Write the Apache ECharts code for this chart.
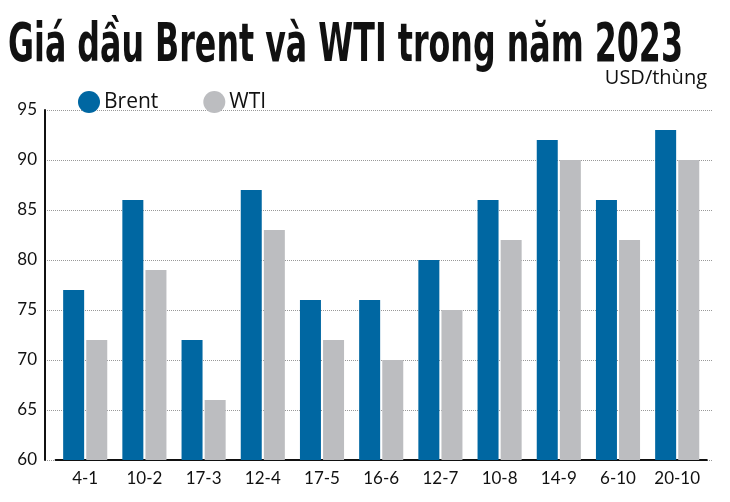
<!DOCTYPE html>
<html><head><meta charset="utf-8">
<script src="https://cdn.jsdelivr.net/npm/echarts@6/dist/echarts.min.js"></script>
<style>html,body{margin:0;padding:0;background:#fff}#c{width:730px;height:502px}</style>
</head><body><div id="c"></div>
<script>
var categories = ['4-1','10-2','17-3','12-4','17-5','16-6','12-7','10-8','14-9','6-10','20-10'];
var brent = [77, 86, 72, 87, 76, 76, 80, 86, 92, 86, 93];
var wti = [72, 79, 66, 83, 72, 70, 75, 82, 90, 82, 90];
var yTicks = [60, 65, 70, 75, 80, 85, 90, 95];

var titleText = 'Giá dầu Brent và WTI trong năm 2023';
var titleFont = 'bold 52px "DejaVu Sans Condensed"';
var cv = document.createElement('canvas').getContext('2d');
cv.font = titleFont;
var tw = cv.measureText(titleText).width;
var sx = 675 / tw;

var chart = echarts.init(document.getElementById('c'), null, {renderer: 'canvas'});
var axisFont = {fontFamily: 'Lato', fontSize: 17, color: '#111'};
chart.setOption({
  animation: false,
  backgroundColor: '#fff',
  graphic: [
    {type: 'text', left: 8, top: 20, scaleX: sx, scaleY: 1.03, style: {text: titleText, font: titleFont, fill: '#111'}},
    {type: 'text', right: 23, top: 68, style: {text: 'USD/thùng', font: '20px "Open Sans"', fill: '#111'}}
  ],
  legend: {
    left: 73, top: 86, icon: 'circle', itemWidth: 22, itemHeight: 22, itemGap: 45,
    textStyle: {fontFamily: 'Open Sans', fontSize: 21, color: '#111', padding: [0,0,0,-1]},
    data: ['Brent', 'WTI']
  },
  grid: [
    {left: 45, right: 18, top: 110, bottom: 42},
    {left: 55.6, right: 23.2, top: 110, bottom: 42}
  ],
  xAxis: [
    {type: 'value', gridIndex: 0, min: 0, max: 1, axisLine: {show: false}, axisTick: {show: false}, axisLabel: {show: false}, splitLine: {show: false}},
    {type: 'category', gridIndex: 1, data: categories, axisLine: {show: true, lineStyle: {color: '#111', width: 2}},
     axisTick: {show: false}, axisLabel: Object.assign({margin: 10, interval: 0}, axisFont)}
  ],
  yAxis: [
    {type: 'value', gridIndex: 0, min: 60, max: 95, interval: 5,
     axisLine: {show: true, lineStyle: {color: '#111', width: 2}}, axisTick: {show: false},
     axisLabel: Object.assign({margin: 8}, axisFont),
     splitLine: {show: true, lineStyle: {color: '#999', type: [1, 1], width: 1}}},
    {type: 'value', gridIndex: 1, min: 60, max: 95, interval: 5, show: false}
  ],
  series: [
    {name: 'Brent', type: 'bar', xAxisIndex: 1, yAxisIndex: 1, data: brent, barWidth: 21, barGap: '10%', itemStyle: {color: '#0067a2'}},
    {name: 'WTI', type: 'bar', xAxisIndex: 1, yAxisIndex: 1, data: wti, barWidth: 21, barGap: '10%', itemStyle: {color: '#bcbdc0'}}
  ]
});
</script></body></html>
